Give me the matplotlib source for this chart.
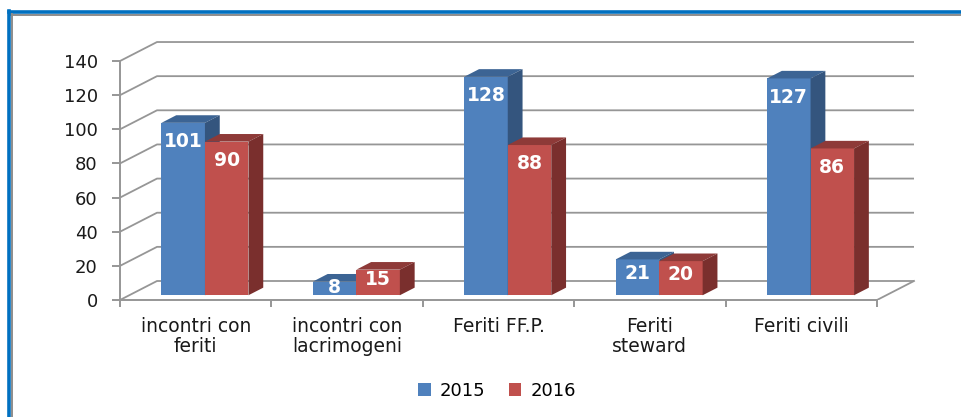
import matplotlib
matplotlib.use("Agg")
import matplotlib.pyplot as plt
from matplotlib.patches import Polygon, Patch
from matplotlib.lines import Line2D

# data
categories = ["incontri con\nferiti", "incontri con\nlacrimogeni", "Feriti FF.P.",
              "Feriti\nsteward", "Feriti civili"]
years = ["2015", "2016"]
values_2015 = [101, 8, 128, 21, 127]
values_2016 = [90, 15, 88, 20, 86]
y_ticks = [0, 20, 40, 60, 80, 100, 120, 140]

# colours (front, top, side)
blue = ("#4F81BD", "#3C6494", "#34557E")
red = ("#C0504D", "#8E3A38", "#7A2F2D")
grid_col = "#969696"

W, H = 962, 417
fig = plt.figure(figsize=(W / 100, H / 100), dpi=100)

px_x = 151.4   # pixels per category
px_y = 1.707   # pixels per value unit
ax_left, ax_right, ax_bot, ax_top = 120, 920, 300, 38
ax = fig.add_axes([ax_left / W, (H - ax_bot) / H,
                   (ax_right - ax_left) / W, (ax_bot - ax_top) / H])
ax.set_xlim(0, (ax_right - ax_left) / px_x)
ax.set_ylim(0, (ax_bot - ax_top) / px_y)
ax.patch.set_visible(False)

# oblique depth of the chart box, in data units
Dx = 37 / px_x
Dy = 19 / px_y
n = len(categories)

# walls: left wall diagonals + back wall gridlines
for v in y_ticks:
    ax.plot([0, Dx, n + Dx], [v, v + Dy, v + Dy], color=grid_col, lw=1.3,
            solid_capstyle="butt", zorder=1)
ax.plot([n, n + Dx], [0, Dy], color=grid_col, lw=1.3, zorder=1)

for s in ["top", "right"]:
    ax.spines[s].set_visible(False)
for s in ["left", "bottom"]:
    ax.spines[s].set_color(grid_col)
    ax.spines[s].set_linewidth(1.4)
ax.spines["left"].set_bounds(0, 140)
ax.spines["bottom"].set_bounds(0, n)

ax.set_yticks(y_ticks)
ax.set_yticklabels([str(t) for t in y_ticks])
ax.tick_params(axis="y", direction="out", length=6, width=1.4, color=grid_col,
               pad=10, labelsize=13, labelcolor="#1a1a1a")
ax.set_xticks(range(n + 1))
ax.set_xticklabels([""] * (n + 1))
ax.tick_params(axis="x", which="major", direction="out", length=5, width=1.4,
               color=grid_col)
ax.set_xticks([i + 0.5 for i in range(n)], minor=True)
ax.set_xticklabels(categories, minor=True, fontsize=13.5, color="#1a1a1a",
                   linespacing=1.1)
ax.tick_params(axis="x", which="minor", length=0, pad=12)

# bars
f0 = 0.25      # depth where bar front sits
d = 0.4        # bar depth fraction
bw = 43.5 / px_x
base = f0 * Dy

def draw_bar(x0, v, cols, z):
    ax.bar(x0, v, width=bw, bottom=base, align="edge", color=cols[0],
           linewidth=0, zorder=z)
    top = base + v
    ax.add_patch(Polygon([(x0, top), (x0 + bw, top), (x0 + bw + d * Dx, top + d * Dy),
                          (x0 + d * Dx, top + d * Dy)], closed=True, color=cols[1],
                         lw=0, zorder=z))
    ax.add_patch(Polygon([(x0 + bw, base), (x0 + bw, top),
                          (x0 + bw + d * Dx, top + d * Dy),
                          (x0 + bw + d * Dx, base + d * Dy)], closed=True,
                         color=cols[2], lw=0, zorder=z))
    ly = v - 11 if v > 30 else v * 0.6
    ax.text(x0 + bw / 2, base + ly, str(v), ha="center", va="center",
            color="white", fontsize=13.5, fontweight="bold", zorder=z + 1)

for i in range(n):
    c = i + 0.5 + f0 * Dx
    draw_bar(c - bw, values_2015[i], blue, 3 + 3 * i)
    draw_bar(c, values_2016[i], red, 4 + 3 * i)

# legend
handles = [Patch(facecolor=blue[0], edgecolor="none"),
           Patch(facecolor=red[0], edgecolor="none")]
fig.legend(handles, years, loc="center", bbox_to_anchor=(497 / W, 1 - 391 / H),
           ncol=2, frameon=False, fontsize=13, handlelength=0.7, handleheight=0.7,
           handletextpad=0.5, columnspacing=1.3)

# frame
fig.add_artist(Line2D([8.5 / W, 1], [1 - 12 / H, 1 - 12 / H], color="#0070C0",
                      lw=2.6, transform=fig.transFigure))
fig.add_artist(Line2D([10 / W, 1], [1 - 15 / H, 1 - 15 / H], color="#8C8C8C",
                      lw=1.4, transform=fig.transFigure))
fig.add_artist(Line2D([8.5 / W, 8.5 / W], [0, 1 - 10.5 / H], color="#0070C0",
                      lw=2.6, transform=fig.transFigure))
fig.add_artist(Line2D([11.5 / W, 11.5 / W], [0, 1 - 14 / H], color="#8C8C8C",
                      lw=1.4, transform=fig.transFigure))

fig.savefig("out.png", dpi=100)
